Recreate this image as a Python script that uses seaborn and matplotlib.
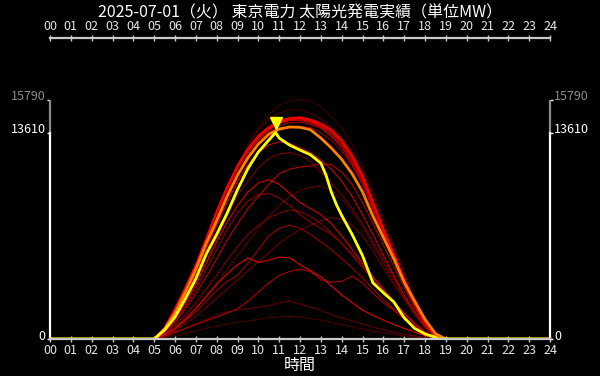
import matplotlib
matplotlib.use("Agg")
import matplotlib.pyplot as plt
import matplotlib.transforms as mtransforms
import numpy as np
import pandas as pd
import seaborn as sns

# ---------------- data ----------------
title = "2025-07-01（火） 東京電力 太陽光発電実績（単位MW）"
xlabel = "時間"
hour_ticks = list(range(0, 25))
hour_labels = [f"{h:02d}" for h in hour_ticks]
y_ticks = [0, 13610, 15790]
y_labels = ["0", "13610", "15790"]
today_peak = 13610
period_max = 15790

# half-hourly grid 05:00 .. 19:00 for past days
grid = [5.0 + 0.5 * i for i in range(29)]

# past days, oldest (darkest) -> newest (brightest)
f1 = [0, 500, 1500, 2900, 4400, 6100, 7900, 9700, 11300, 12800, 13900, 14800, 15400, 15700, 15790, 15700, 15300, 14700, 13900, 12800, 11400, 9800, 8000, 6200, 4400, 2700, 1300, 400, 0]
l4 = [0, 100, 250, 400, 550, 700, 850, 1000, 1100, 1200, 1300, 1400, 1450, 1500, 1450, 1350, 1250, 1100, 950, 800, 650, 520, 400, 300, 200, 120, 60, 15, 0]
f2 = [0, 550, 1650, 3000, 4500, 6200, 8000, 9800, 11400, 12800, 13800, 14500, 14900, 15100, 15100, 14900, 14500, 14000, 13300, 12300, 11000, 9400, 7700, 6000, 4300, 2700, 1300, 350, 0]
m3 = [0, 300, 800, 1400, 2100, 2900, 3700, 4600, 5500, 6400, 7300, 8100, 8800, 9400, 9800, 10000, 10100, 9800, 9200, 8400, 7400, 6200, 5000, 3800, 2700, 1700, 750, 130, 0]
l3 = [0, 150, 400, 700, 1000, 1300, 1600, 1800, 1900, 2000, 2100, 2200, 2400, 2500, 2300, 2100, 1900, 1600, 1400, 1200, 1000, 800, 600, 450, 300, 200, 100, 30, 0]
m7 = [0, 200, 550, 1000, 1500, 2100, 2700, 3300, 3900, 4500, 5100, 5700, 6300, 6800, 7200, 7500, 7800, 8000, 7900, 7500, 6800, 5800, 4700, 3600, 2600, 1600, 750, 130, 0]
s2 = [0, 500, 1400, 2500, 3700, 5100, 6600, 8100, 9500, 10400, 11300, 11900, 12200, 12300, 12100, 11700, 11000, 10300, 9500, 8600, 7600, 6400, 5200, 4000, 2800, 1700, 750, 130, 0]
m4 = [0, 350, 900, 1600, 2400, 3300, 4200, 5200, 6100, 6900, 7500, 8000, 8300, 8500, 8400, 8100, 7600, 7000, 6300, 5500, 4700, 3900, 3100, 2300, 1600, 950, 420, 70, 0]
c6 = [0, 600, 1700, 3000, 4500, 6200, 8000, 9500, 10900, 12000, 12800, 13400, 13750, 13950, 14000, 13950, 13600, 13100, 12400, 11400, 10200, 8500, 6800, 5200, 3600, 2100, 900, 150, 0]
m2 = [0, 450, 1200, 2200, 3300, 4600, 5900, 7200, 8300, 9100, 9500, 9600, 9300, 8800, 8200, 7700, 7300, 6900, 6300, 5600, 4800, 4000, 3200, 2400, 1700, 1000, 450, 80, 0]
m5 = [0, 250, 650, 1200, 1800, 2500, 3200, 3800, 4200, 5000, 5900, 6800, 7300, 7500, 7300, 6900, 6400, 5900, 5300, 4700, 4000, 3300, 2600, 2000, 1400, 850, 380, 70, 0]
c4 = [0, 650, 1800, 3150, 4650, 6350, 8150, 9750, 11150, 12250, 13100, 13650, 14050, 14250, 14300, 14150, 13900, 13400, 12700, 11700, 10400, 8700, 6900, 5300, 3700, 2200, 950, 180, 0]
l2 = [0, 200, 450, 700, 950, 1200, 1450, 1700, 2000, 2500, 3100, 3700, 4200, 4450, 4600, 4450, 3900, 3750, 3800, 4150, 3700, 3000, 2400, 1900, 1300, 850, 400, 80, 0]
m1 = [0, 400, 1100, 2000, 3000, 4100, 5300, 6500, 7600, 8600, 9400, 10200, 10900, 11200, 11350, 11400, 11550, 11500, 11000, 10200, 9000, 7600, 6200, 4800, 3400, 2100, 950, 180, 0]
c7 = [0, 700, 1900, 3250, 4750, 6450, 8250, 9850, 11250, 12350, 13200, 13800, 14200, 14400, 14420, 14250, 13950, 13350, 12650, 11550, 10300, 8600, 6950, 5350, 3750, 2250, 980, 200, 0]
s1 = [0, 600, 1700, 2900, 4300, 5900, 7500, 9000, 10400, 11500, 12300, 12800, 13000, 12900, 12600, 12300, 11800, 11200, 10400, 9400, 8200, 6900, 5500, 4200, 2900, 1800, 800, 150, 0]
m6 = [0, 500, 1300, 2400, 3600, 5000, 6400, 7700, 8800, 9700, 10300, 10500, 10200, 9600, 9000, 8600, 8200, 7600, 6800, 5900, 5000, 4100, 3300, 2500, 1700, 1050, 450, 80, 0]
c2 = [0, 720, 1950, 3350, 4850, 6550, 8350, 9950, 11350, 12450, 13300, 13850, 14250, 14450, 14500, 14330, 14020, 13550, 12850, 11850, 10550, 8850, 7100, 5450, 3850, 2350, 1020, 220, 0]
l1 = [0, 300, 700, 1300, 2000, 2800, 3600, 4300, 4900, 5350, 5050, 5200, 5400, 5350, 4900, 4500, 4100, 3500, 2900, 2400, 1900, 1550, 1250, 950, 700, 450, 220, 60, 0]
c5 = [0, 760, 2020, 3420, 4920, 6650, 8450, 10050, 11450, 12550, 13400, 13950, 14350, 14550, 14600, 14450, 14150, 13750, 13050, 12050, 10750, 9000, 7250, 5600, 3950, 2450, 1100, 260, 0]
c1 = [0, 780, 2050, 3450, 4950, 6700, 8500, 10100, 11500, 12600, 13450, 14000, 14400, 14600, 14650, 14500, 14250, 13850, 13150, 12150, 10850, 9100, 7350, 5700, 4000, 2500, 1150, 280, 0]
c3 = [0, 740, 1980, 3380, 4880, 6600, 8400, 10000, 11400, 12500, 13350, 13900, 14300, 14500, 14550, 14400, 14100, 13700, 13000, 12000, 10700, 8950, 7200, 5550, 3900, 2400, 1080, 240, 0]

past_days = [f1, l4, f2, m3, l3, m7, s2, m4, c6, m2, m5, c4, l2, m1, c7, s1, m6, c2, l1, c5, c1, c3]

# yesterday (orange)
yesterday = [0, 650, 1700, 3100, 4600, 6300, 7800, 9400, 10800, 11950, 12850, 13500, 13850, 13980, 13960, 13800, 13250, 12600, 11850, 10900, 9700, 8100, 6700, 5300, 3750, 2500, 1300, 350, 0]

# today (yellow)
today_t = [0, 5.0, 5.5, 6.0, 6.5, 7.0, 7.5, 8.0, 8.5, 9.0, 9.5, 10.0, 10.5, 10.83, 11.0, 11.5, 12.0, 12.5, 13.0, 13.25, 13.5, 13.75, 14.0, 14.5, 15.0, 15.5, 16.0, 16.5, 17.0, 17.5, 18.0, 18.5, 18.65, 24]
today_v = [0, 0, 590, 1450, 2670, 3980, 5600, 6900, 8290, 9850, 11240, 12330, 13110, 13610, 13250, 12790, 12460, 12150, 11600, 10800, 9700, 8850, 8150, 6900, 5500, 3700, 3050, 2450, 1400, 700, 330, 120, 0, 0]

# ---------------- build tables ----------------
rows = []
for i, vals in enumerate(past_days):
    xs = [0.0] + grid + [24.0]
    ys = [0] + vals + [0]
    for x, y in zip(xs, ys):
        rows.append({"day": i, "hour": x, "mw": y})
df_past = pd.DataFrame(rows)
df_yest = pd.DataFrame({"hour": [0.0] + grid + [24.0], "mw": [0] + yesterday + [0]})
df_today = pd.DataFrame({"hour": today_t, "mw": today_v})

# ---------------- style ----------------
sns.set_theme(style="dark")
plt.rcParams["font.family"] = ["Noto Sans CJK JP", "DejaVu Sans"]
plt.rcParams["axes.unicode_minus"] = False

fig = plt.figure(figsize=(6.0, 3.76), dpi=100, facecolor="black")
ax = fig.add_axes([50 / 600, 37 / 376, 500 / 600, 301 / 376])
ax.set_facecolor("black")
ax.grid(False)

n = len(past_days)
palette = [(0.22 + 0.78 * i / (n - 1), 0.0, 0.0) for i in range(n)]

sns.lineplot(data=df_past, x="hour", y="mw", hue="day", palette=palette,
             legend=False, sort=False, estimator=None, linewidth=0.8, ax=ax)
sns.lineplot(data=df_yest, x="hour", y="mw", color="#ff8000",
             sort=False, estimator=None, linewidth=2.0, ax=ax)
sns.lineplot(data=df_today, x="hour", y="mw", color="#ffff00",
             sort=False, estimator=None, linewidth=2.0, ax=ax)

# peak marker (just above today's peak)
pk = int(np.argmax(today_v))
off = mtransforms.ScaledTranslation(0, 7 / 72, fig.dpi_scale_trans)
ax.plot([today_t[pk]], [today_v[pk]], marker="v", color="#ffff00",
        markersize=8, linestyle="none", transform=ax.transData + off, clip_on=False)

ax.set_xlim(0, 24)
ax.set_ylim(0, 19850)

# spines
for s in ["top", "bottom"]:
    ax.spines[s].set_color("#c8c8c8")
    ax.spines[s].set_linewidth(1.6)
for s in ["left", "right"]:
    ax.spines[s].set_color("white")
    ax.spines[s].set_linewidth(1.6)
    ax.spines[s].set_bounds(0, today_peak)
ax.vlines([0, 24], today_peak, period_max, colors="#8a8a8a", linewidth=1.6, clip_on=False)

# ticks
ax.set_xticks(hour_ticks)
ax.set_xticklabels(hour_labels)
ax.tick_params(axis="x", which="both", top=True, labeltop=True, bottom=True, labelbottom=True,
               direction="inout", length=4, width=1, color="#c8c8c8",
               labelcolor="#e6e6e6", labelsize=9, pad=1.5)
ax.set_yticks(y_ticks)
ax.set_yticklabels(y_labels)
ax.tick_params(axis="y", which="both", left=True, right=True, labelleft=True, labelright=True,
               direction="out", length=2, width=1, color="white", labelsize=9, pad=1)
yoff = mtransforms.ScaledTranslation(0, 3 / 72, fig.dpi_scale_trans)
for tick in ax.yaxis.get_major_ticks():
    for lab in (tick.label1, tick.label2):
        lab.set_transform(lab.get_transform() + yoff)
        lab.set_color("#8a8a8a" if lab.get_text() == "15790" else "white")
    if tick.get_loc() == period_max:
        tick.tick1line.set_color("#8a8a8a")
        tick.tick2line.set_color("#8a8a8a")

ax.set_xlabel(xlabel, color="white", fontsize=11.5, labelpad=0)
ax.set_ylabel("")
fig.text(0.5, 1 - 13 / 376, title, ha="center", va="center", color="white", fontsize=11.5)

fig.savefig("out.png", dpi=100, facecolor="black")
